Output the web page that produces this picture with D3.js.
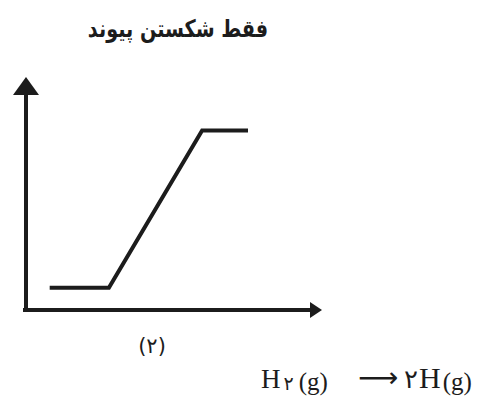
<!DOCTYPE html>
<html>
<head>
<meta charset="utf-8">
<script src="https://cdn.jsdelivr.net/npm/d3@7"></script>
<style>
  html, body { margin: 0; padding: 0; background: #fff; }
  svg { display: block; }
</style>
</head>
<body>
<div id="chart"></div>
<script>
// داده‌ها (نمودار طرح‌وار انرژی)
const progress = [8, 28, 59.5, 75];
const energy = [9.5, 9.5, 77, 77];
const title = "فقط شکستن پیوند";
const caption = "(۲)";

const width = 482;
const height = 403;
const ink = "#1c1c1c";

const svg = d3.select("#chart")
  .append("svg")
  .attr("width", width)
  .attr("height", height);

// مقیاس‌ها
const x = d3.scaleLinear().domain([0, 100]).range([26, 322]);
const y = d3.scaleLinear().domain([0, 100]).range([310, 77]);

// عنوان
svg.append("text")
  .attr("transform", "translate(178,37) scale(0.8,1)")
  .attr("text-anchor", "middle")
  .attr("direction", "rtl")
  .attr("font-family", "DejaVu Sans")
  .attr("font-weight", "bold")
  .attr("font-size", 24)
  .attr("fill", ink)
  .text(title);

// محورها
const axes = svg.append("g")
  .attr("stroke", ink)
  .attr("stroke-width", 4)
  .attr("fill", "none");

axes.append("line")
  .attr("x1", x(0)).attr("y1", y(0) + 2)
  .attr("x2", x(0)).attr("y2", y(100) + 14);

axes.append("line")
  .attr("x1", x(0) - 3).attr("y1", y(0))
  .attr("x2", x(100) - 8).attr("y2", y(0));

// سر پیکان‌ها
svg.append("path")
  .attr("fill", ink)
  .attr("d", `M${x(0)},${y(100)} L${x(0) + 13},${y(100) + 18} L${x(0) - 13},${y(100) + 18} Z`);

svg.append("path")
  .attr("fill", ink)
  .attr("d", `M${x(100)},${y(0)} L${x(100) - 12},${y(0) - 8} L${x(100) - 12},${y(0) + 8} Z`);

// منحنی انرژی
const line = d3.line()
  .x((d, i) => x(progress[i]))
  .y(d => y(d));

svg.append("path")
  .datum(energy)
  .attr("fill", "none")
  .attr("stroke", ink)
  .attr("stroke-width", 4)
  .attr("stroke-linejoin", "miter")
  .attr("d", line);

// برچسب زیر نمودار
svg.append("text")
  .attr("x", 152)
  .attr("y", 353)
  .attr("text-anchor", "middle")
  .attr("font-family", "DejaVu Sans")
  .attr("font-size", 21)
  .attr("fill", ink)
  .text(caption);

// معادله واکنش
const eq = svg.append("text")
  .attr("x", 261)
  .attr("y", 388)
  .attr("font-family", "Liberation Serif")
  .attr("font-size", 27)
  .attr("fill", ink);

eq.append("tspan").text("H");
eq.append("tspan").attr("font-size", 19).attr("dy", 2).attr("dx", 3).attr("font-family", "DejaVu Sans").text("۲");
eq.append("tspan").attr("font-size", 25).attr("dx", 5).text("(g)");
eq.append("tspan").attr("dy", -3).attr("dx", 30).attr("font-family", "DejaVu Sans").attr("font-size", 28).text("⟶");
eq.append("tspan").attr("dx", 6).attr("dy", 1).attr("font-family", "DejaVu Sans").attr("font-size", 26).text("۲");
eq.append("tspan").attr("font-size", 30).attr("dx", 1).text("H");
eq.append("tspan").attr("font-size", 25).attr("dx", 2).attr("dy", 2).text("(g)");
</script>
</body>
</html>
